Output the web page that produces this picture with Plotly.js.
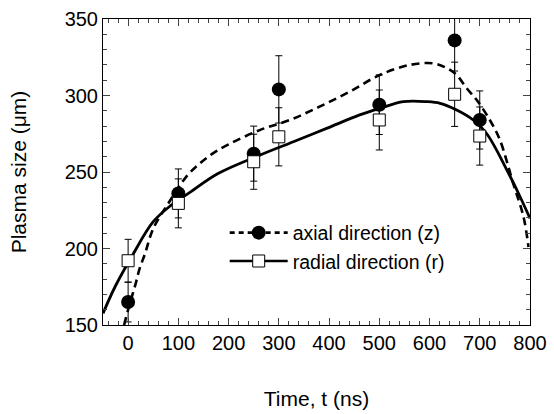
<!DOCTYPE html>
<html>
<head>
<meta charset="utf-8">
<script src="https://cdn.plot.ly/plotly-3.0.1.min.js"></script>
<style>html,body{margin:0;padding:0;background:#fff;}</style>
</head>
<body>
<div id="chart" style="width:554px;height:414px;"></div>
<script>
// Measured points
var tPoints = [0, 100, 250, 300, 500, 650, 700];
var axialSize = [165, 236, 262, 304, 294, 336, 284];
var axialErr = [13, 16, 18, 22, 19.5, 20, 19];
var radialSize = [192, 229.5, 256.7, 273, 284, 300.8, 273.5];
var radialErr = [14, 16, 18, 19, 19.6, 21, 19];

// Fit curves
var axialFitT = [-8, 0, 15, 23, 33, 50, 83, 116, 143, 169, 200, 262, 322, 381, 441, 501, 561, 608, 634, 654, 674, 694, 720, 740, 767, 787, 797];
var axialFitY = [150, 160, 177, 187, 196, 213, 231, 247, 255.7, 262.2, 268, 277.4, 284, 292.7, 302.5, 313.4, 320, 321, 318, 313.4, 304.7, 297, 284, 271, 242, 220.8, 201];
var radialFitT = [-50, -26, 7, 50, 86, 120, 179, 262, 329, 395, 461, 501, 548, 594, 621, 654, 687, 714, 754, 780, 800];
var radialFitY = [157.6, 175, 194.6, 217.5, 228.4, 236, 249, 261, 269.8, 278.5, 287.3, 291.6, 296, 296, 294.9, 290.5, 284, 275, 251.3, 234, 219.7];

var xTickVals = [0, 100, 200, 300, 400, 500, 600, 700, 800];
var yTickVals = [150, 200, 250, 300, 350];

var legendNames = ['axial direction (z)', 'radial direction (r)'];

var traces = [
  {x: axialFitT, y: axialFitY, mode: 'lines', line: {color: '#000', width: 2.6, dash: '8px,5px', shape: 'spline', smoothing: 1}, showlegend: false, hoverinfo: 'skip'},
  {x: radialFitT, y: radialFitY, mode: 'lines', line: {color: '#000', width: 2.8, shape: 'spline', smoothing: 1}, showlegend: false, hoverinfo: 'skip'},
  {x: tPoints, y: axialSize, mode: 'markers', showlegend: false,
   marker: {symbol: 'circle', size: 14, color: '#000'},
   error_y: {type: 'data', array: axialErr, visible: true, color: '#000', thickness: 1, width: 3.5}},
  {x: tPoints, y: radialSize, mode: 'markers', showlegend: false,
   marker: {symbol: 'square', size: 12, color: '#fff', line: {color: '#000', width: 1}},
   error_y: {type: 'data', array: radialErr, visible: true, color: '#000', thickness: 1, width: 3.5}},
  {x: [null], y: [null], mode: 'lines+markers', name: legendNames[0],
   line: {color: '#000', width: 2.6, dash: '5px,4px'}, marker: {symbol: 'circle', size: 14, color: '#000'}},
  {x: [null], y: [null], mode: 'lines+markers', name: legendNames[1],
   line: {color: '#000', width: 2.6}, marker: {symbol: 'square', size: 12, color: '#fff', line: {color: '#000', width: 1}}}
];

var font = 'Liberation Sans, Arial, Helvetica, sans-serif';
var layout = {
  width: 554, height: 414,
  margin: {l: 103, r: 24, t: 19, b: 89},
  paper_bgcolor: '#fff', plot_bgcolor: '#fff',
  font: {family: font, color: '#000', size: 20},
  showlegend: true,
  legend: {x: 0.285, y: 0.255, xanchor: 'left', yanchor: 'middle', bgcolor: 'rgba(0,0,0,0)',
           font: {size: 19.5, family: font}, itemwidth: 58, tracegroupgap: 0},
  xaxis: {
    range: [-50, 800], tickvals: xTickVals, ticks: 'inside', ticklen: 7, tickwidth: 1,
    showline: true, linecolor: '#000', linewidth: 1, mirror: 'allticks',
    showgrid: false, zeroline: false,
    minor: {dtick: 20, tick0: 0, ticks: 'inside', ticklen: 4, tickwidth: 1, showgrid: false},
    tickfont: {size: 20},
    title: {text: 'Time, t (ns)', font: {size: 21}, standoff: 38}
  },
  yaxis: {
    range: [150, 350], tickvals: yTickVals, ticks: 'inside', ticklen: 7, tickwidth: 1,
    showline: true, linecolor: '#000', linewidth: 1, mirror: 'allticks',
    showgrid: false, zeroline: false,
    minor: {dtick: 10, tick0: 150, ticks: 'inside', ticklen: 4, tickwidth: 1, showgrid: false},
    tickfont: {size: 20},
    title: {text: 'Plasma size (μm)', font: {size: 21}, standoff: 32}
  }
};

Plotly.newPlot('chart', traces, layout, {displayModeBar: false, staticPlot: true});
</script>
</body>
</html>
